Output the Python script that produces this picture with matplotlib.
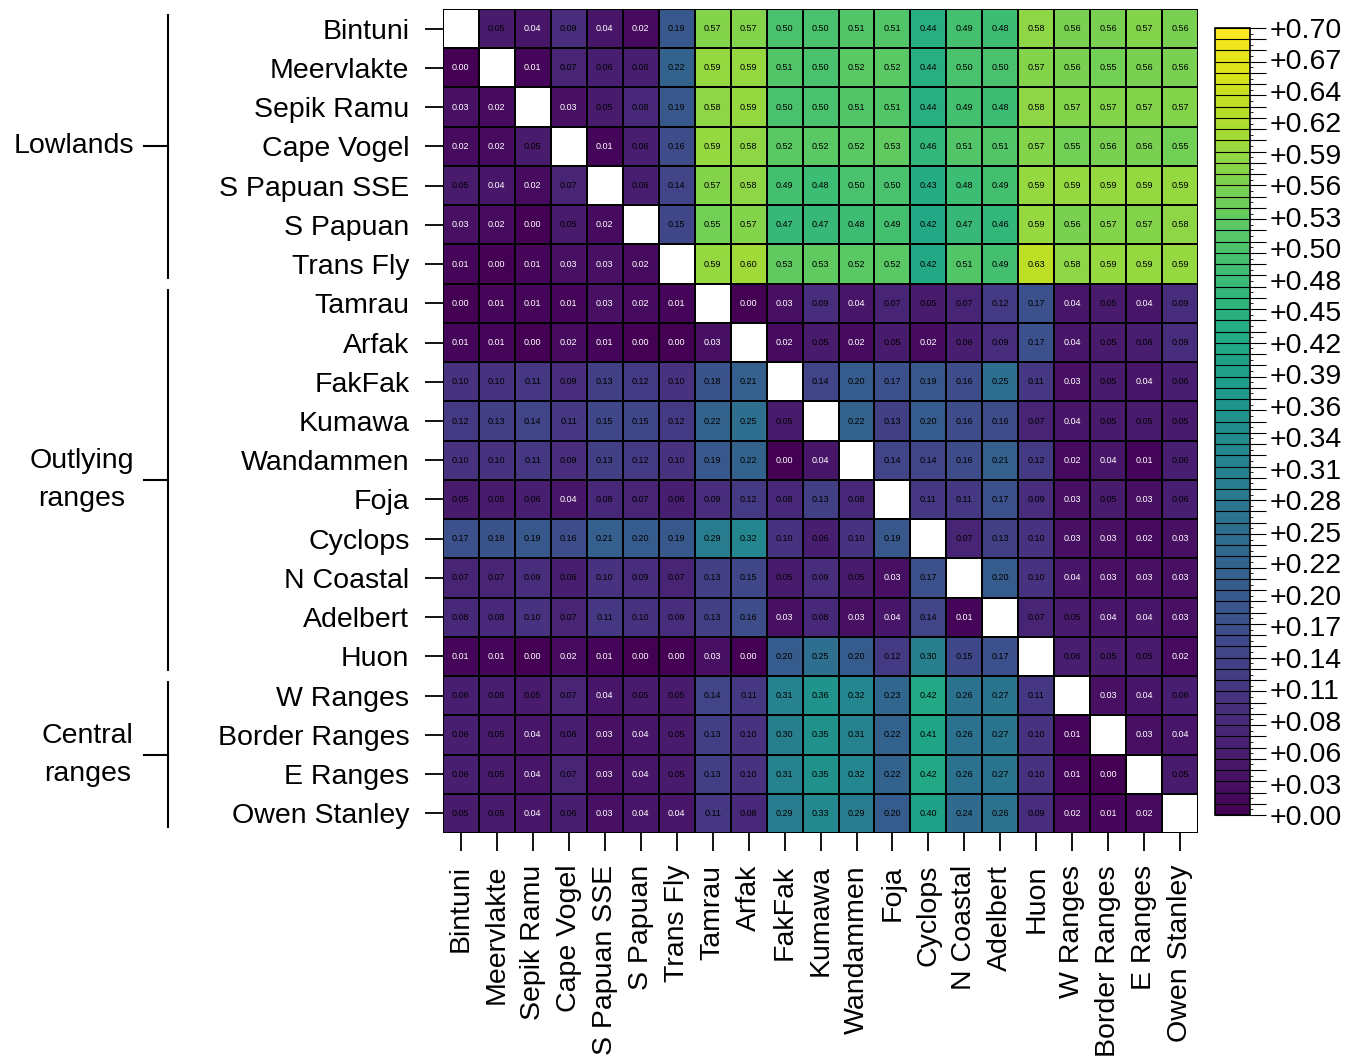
import numpy as np
import matplotlib.pyplot as plt
import matplotlib.transforms as mtransforms
from matplotlib.colors import BoundaryNorm

plt.rcParams['font.family'] = ['Liberation Sans', 'DejaVu Sans']

regions = ['Bintuni', 'Meervlakte', 'Sepik Ramu', 'Cape Vogel', 'S Papuan SSE',
           'S Papuan', 'Trans Fly', 'Tamrau', 'Arfak', 'FakFak', 'Kumawa',
           'Wandammen', 'Foja', 'Cyclops', 'N Coastal', 'Adelbert', 'Huon',
           'W Ranges', 'Border Ranges', 'E Ranges', 'Owen Stanley']

groups = ['Lowlands', 'Outlying\nranges', 'Central\nranges']
group_rows = [(0, 6), (7, 16), (17, 20)]

N = np.nan
dist = np.array([
    [N, .05, .04, .09, .04, .02, .19, .57, .57, .50, .50, .51, .51, .44, .49, .48, .58, .56, .56, .57, .56],
    [.00, N, .01, .07, .06, .06, .22, .59, .59, .51, .50, .52, .52, .44, .50, .50, .57, .56, .55, .56, .56],
    [.03, .02, N, .03, .05, .08, .19, .58, .59, .50, .50, .51, .51, .44, .49, .48, .58, .57, .57, .57, .57],
    [.02, .02, .05, N, .01, .06, .16, .59, .58, .52, .52, .52, .53, .46, .51, .51, .57, .55, .56, .56, .55],
    [.05, .04, .02, .07, N, .06, .14, .57, .58, .49, .48, .50, .50, .43, .48, .49, .59, .59, .59, .59, .59],
    [.03, .02, .00, .05, .02, N, .15, .55, .57, .47, .47, .48, .49, .42, .47, .46, .59, .56, .57, .57, .58],
    [.01, .00, .01, .03, .03, .02, N, .59, .60, .53, .53, .52, .52, .42, .51, .49, .63, .58, .59, .59, .59],
    [.00, .01, .01, .01, .03, .02, .01, N, .00, .03, .09, .04, .07, .05, .07, .12, .17, .04, .05, .04, .09],
    [.01, .01, .00, .02, .01, .00, .00, .03, N, .02, .05, .02, .05, .02, .06, .09, .17, .04, .05, .06, .09],
    [.10, .10, .11, .09, .13, .12, .10, .18, .21, N, .14, .20, .17, .19, .16, .25, .11, .03, .05, .04, .06],
    [.12, .13, .14, .11, .15, .15, .12, .22, .25, .05, N, .22, .13, .20, .16, .16, .07, .04, .05, .05, .05],
    [.10, .10, .11, .09, .13, .12, .10, .19, .22, .00, .04, N, .14, .14, .16, .21, .12, .02, .04, .01, .06],
    [.05, .05, .06, .04, .08, .07, .06, .09, .12, .08, .13, .08, N, .11, .11, .17, .09, .03, .05, .03, .06],
    [.17, .18, .19, .16, .21, .20, .19, .29, .32, .10, .06, .10, .19, N, .07, .13, .10, .03, .03, .02, .03],
    [.07, .07, .09, .06, .10, .09, .07, .13, .15, .05, .09, .05, .03, .17, N, .20, .10, .04, .03, .03, .03],
    [.08, .08, .10, .07, .11, .10, .09, .13, .16, .03, .08, .03, .04, .14, .01, N, .07, .05, .04, .04, .03],
    [.01, .01, .00, .02, .01, .00, .00, .03, .00, .20, .25, .20, .12, .30, .15, .17, N, .06, .05, .05, .02],
    [.06, .06, .05, .07, .04, .05, .05, .14, .11, .31, .36, .32, .23, .42, .26, .27, .11, N, .03, .04, .06],
    [.06, .05, .04, .06, .03, .04, .05, .13, .10, .30, .35, .31, .22, .41, .26, .27, .10, .01, N, .03, .04],
    [.06, .05, .04, .07, .03, .04, .05, .13, .10, .31, .35, .32, .22, .42, .26, .27, .10, .01, .00, N, .05],
    [.05, .05, .04, .06, .03, .04, .04, .11, .08, .29, .33, .29, .20, .40, .24, .26, .09, .02, .01, .02, N],
])

vmax = 0.70
cb_ticks = np.linspace(0, vmax, 26)

cmap = plt.get_cmap('viridis').copy()
cmap.set_bad('white')

fig = plt.figure(figsize=(13.54, 10.61), dpi=100)
ax = fig.add_axes([0.327, 0.2149, 0.558, 0.7766])

n = len(regions)
ax.pcolormesh(np.ma.masked_invalid(dist), cmap=cmap, vmin=0, vmax=vmax,
              edgecolors='black', linewidth=1.4)
ax.set_xlim(0, n)
ax.set_ylim(n, 0)

for i in range(n):
    for j in range(n):
        v = dist[i, j]
        if np.isnan(v):
            continue
        col = 'white' if v < 0.045 else 'black'
        ax.text(j + 0.5, i + 0.5, '%.2f' % v, ha='center', va='center',
                fontsize=6.5, color=col)

fs = 20.5
ax.set_xticks(np.arange(n) + 0.5)
ax.set_xticklabels(regions, rotation=90, fontsize=fs)
ax.set_yticks(np.arange(n) + 0.5)
ax.set_yticklabels(regions, fontsize=fs)
ax.tick_params(axis='y', length=13, width=1.3, pad=11)
ax.tick_params(axis='x', length=13, width=1.3, pad=10)
for s in ax.spines.values():
    s.set_visible(False)

# group brackets on the left
trans = mtransforms.blended_transform_factory(ax.transAxes, ax.transData)
xb = -0.364
for name, (r0, r1) in zip(groups, group_rows):
    y0, y1 = r0 + 0.15, r1 + 0.85
    ym = (y0 + y1) / 2
    ax.plot([xb, xb], [y0, y1], color='black', lw=1.5, transform=trans, clip_on=False)
    ax.plot([xb - 0.031, xb], [ym, ym], color='black', lw=1.5, transform=trans, clip_on=False)
    ax.text(xb - 0.045, ym, name, ha='right', va='center', fontsize=fs,
            multialignment='center', linespacing=1.6, transform=trans)

# colour key
cax = fig.add_axes([0.897, 0.2318, 0.026, 0.7418])
levels = np.linspace(0, vmax, 141)
norm = BoundaryNorm(levels, 256)
cb = fig.colorbar(plt.cm.ScalarMappable(norm=norm, cmap='viridis'), cax=cax,
                  ticks=cb_ticks, drawedges=False)
cb.outline.set_linewidth(1.2)
cax.hlines(levels[::2], 0, 1.45, color='black', lw=0.8,
           transform=mtransforms.blended_transform_factory(cax.transAxes, cax.transData),
           clip_on=False)
cax.set_yticklabels(['+%.2f' % t for t in cb_ticks], fontsize=fs)
cax.tick_params(axis='y', length=0, pad=14)

fig.savefig('out.png', dpi=100)
